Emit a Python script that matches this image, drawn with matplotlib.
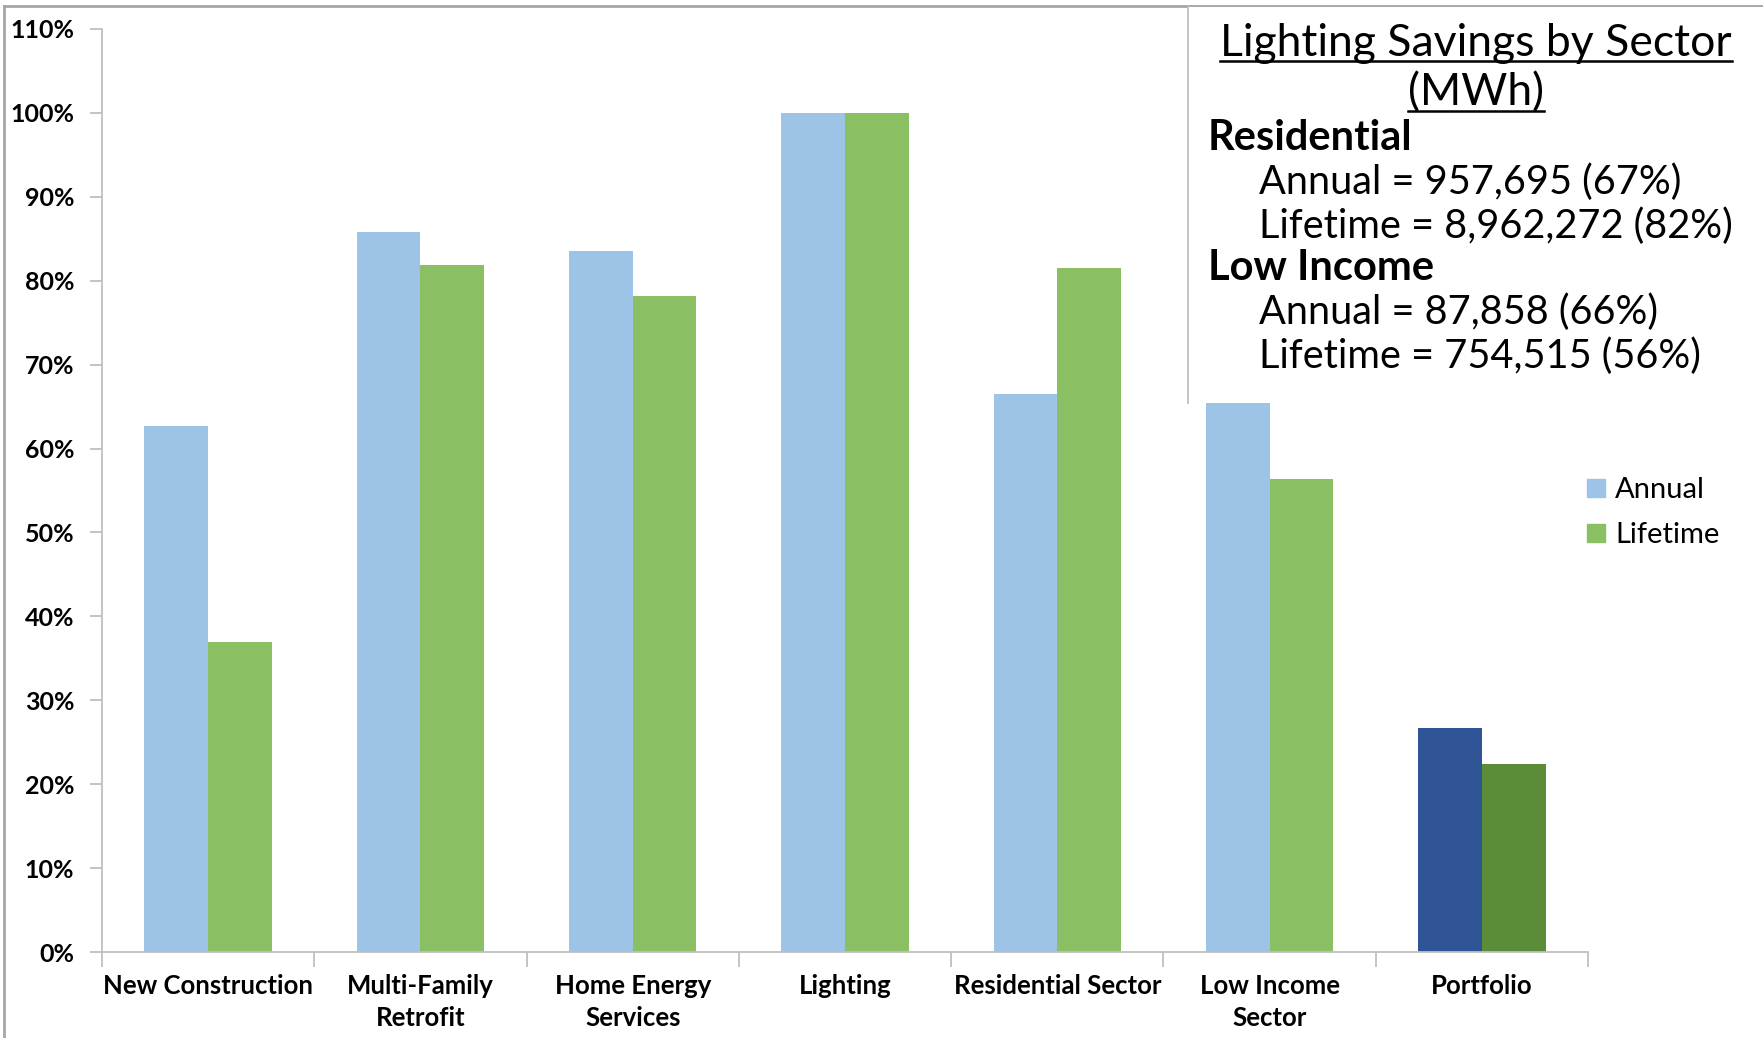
import numpy as np
import matplotlib
matplotlib.use("Agg")
import matplotlib.pyplot as plt
from matplotlib.lines import Line2D
from matplotlib.patches import Rectangle
from matplotlib.ticker import PercentFormatter

plt.rcParams["font.family"] = ["Lato", "DejaVu Sans"]

categories = ["New Construction", "Multi-Family\nRetrofit", "Home Energy\nServices", "Lighting",
              "Residential Sector", "Low Income\nSector", "Portfolio"]
annual = [0.627, 0.858, 0.836, 1.000, 0.665, 0.654, 0.267]
lifetime = [0.369, 0.819, 0.782, 1.000, 0.815, 0.564, 0.224]
series_names = ["Annual", "Lifetime"]

box_title = ["Lighting Savings by Sector", "(MWh)"]
box_lines = [("Residential", True), ("Annual = 957,695 (67%)", False),
             ("Lifetime = 8,962,272 (82%)", False), ("Low Income", True),
             ("Annual = 87,858 (66%)", False), ("Lifetime = 754,515 (56%)", False)]

LIGHT_BLUE, GREEN = "#9DC3E6", "#8BBF63"
DARK_BLUE, DARK_GREEN = "#2F5496", "#5B8C37"
AXIS_GREY = "#BFBFBF"

W, H = 1763, 1038
fig = plt.figure(figsize=(W / 100, H / 100), dpi=100)
ax = fig.add_axes([102 / W, 1 - 952 / H, (1588 - 102) / W, (952 - 29) / H])

x = np.arange(len(categories))
bw = 0.3
a_cols = [LIGHT_BLUE] * (len(x) - 1) + [DARK_BLUE]
l_cols = [GREEN] * (len(x) - 1) + [DARK_GREEN]
ax.bar(x - bw / 2, annual, bw, color=a_cols, label=series_names[0])
ax.bar(x + bw / 2, lifetime, bw, color=l_cols, label=series_names[1])

ax.set_xlim(-0.5, len(x) - 0.5)
ax.set_ylim(0, 1.1)
ax.set_yticks(np.arange(0, 1.11, 0.1))
ax.yaxis.set_major_formatter(PercentFormatter(1.0, decimals=0))
ax.set_xticks(x)
ax.set_xticklabels(categories, fontsize=18.5, fontweight="bold", linespacing=1.4, va="top")
ax.set_xticks(np.arange(-0.5, len(x)), minor=True)
ax.tick_params(axis="x", which="major", length=0, pad=16)
ax.tick_params(axis="x", which="minor", length=11, color=AXIS_GREY, width=1.3)
ax.tick_params(axis="y", length=9, color=AXIS_GREY, width=1.3, pad=11, labelsize=18)
for lab in ax.get_yticklabels():
    lab.set_fontweight("bold")
for s in ["top", "right"]:
    ax.spines[s].set_visible(False)
for s in ["left", "bottom"]:
    ax.spines[s].set_color(AXIS_GREY)
    ax.spines[s].set_linewidth(1.3)

# legend uses the light colours
handles = [Rectangle((0, 0), 1, 1, color=LIGHT_BLUE), Rectangle((0, 0), 1, 1, color=GREEN)]
fig.legend(handles, series_names, loc="upper left", bbox_to_anchor=(1567 / W, 1 - 457 / H),
           frameon=False, fontsize=21, handlelength=0.6, handleheight=0.6,
           handletextpad=0.35, labelspacing=0.65, borderpad=0.2)

# text box in the top-right corner
fig.patches.append(Rectangle((1188 / W, 1 - 403 / H), (W - 1188) / W, 396 / H,
                             transform=fig.transFigure, facecolor="white", edgecolor="none",
                             zorder=5))
fig.add_artist(Line2D([1188 / W, 1188 / W], [1 - 7 / H, 1 - 403 / H], color=AXIS_GREY, lw=1.3,
                      zorder=6))
titles = []
for i, t in enumerate(box_title):
    titles.append(fig.text(1476 / W, 1 - (44 + 49 * i) / H, t, ha="center", va="center",
                           fontsize=32, zorder=7))
ys = [138, 182, 226, 268, 312, 356]
for (t, bold), yy in zip(box_lines, ys):
    xx = 1208 if bold else 1259
    fig.text(xx / W, 1 - yy / H, t, ha="left", va="center",
             fontsize=30 if bold else 28.6,
             fontweight="bold" if bold else "normal", zorder=7)

# image frame (left and top edges)
fig.add_artist(Line2D([4 / W, 4 / W], [0, 1 - 6 / H], color="#A6A6A6", lw=2))
fig.add_artist(Line2D([4 / W, 1], [1 - 6 / H, 1 - 6 / H], color="#A6A6A6", lw=2))

# underline the box title
fig.canvas.draw()
r = fig.canvas.get_renderer()
for t in titles:
    bb = t.get_window_extent(r)
    yline = bb.y0 + 3
    fig.add_artist(Line2D([bb.x0 / W, bb.x1 / W], [yline / H, yline / H], color="black",
                          lw=1.8, zorder=8))

fig.savefig("out.png", dpi=100)
